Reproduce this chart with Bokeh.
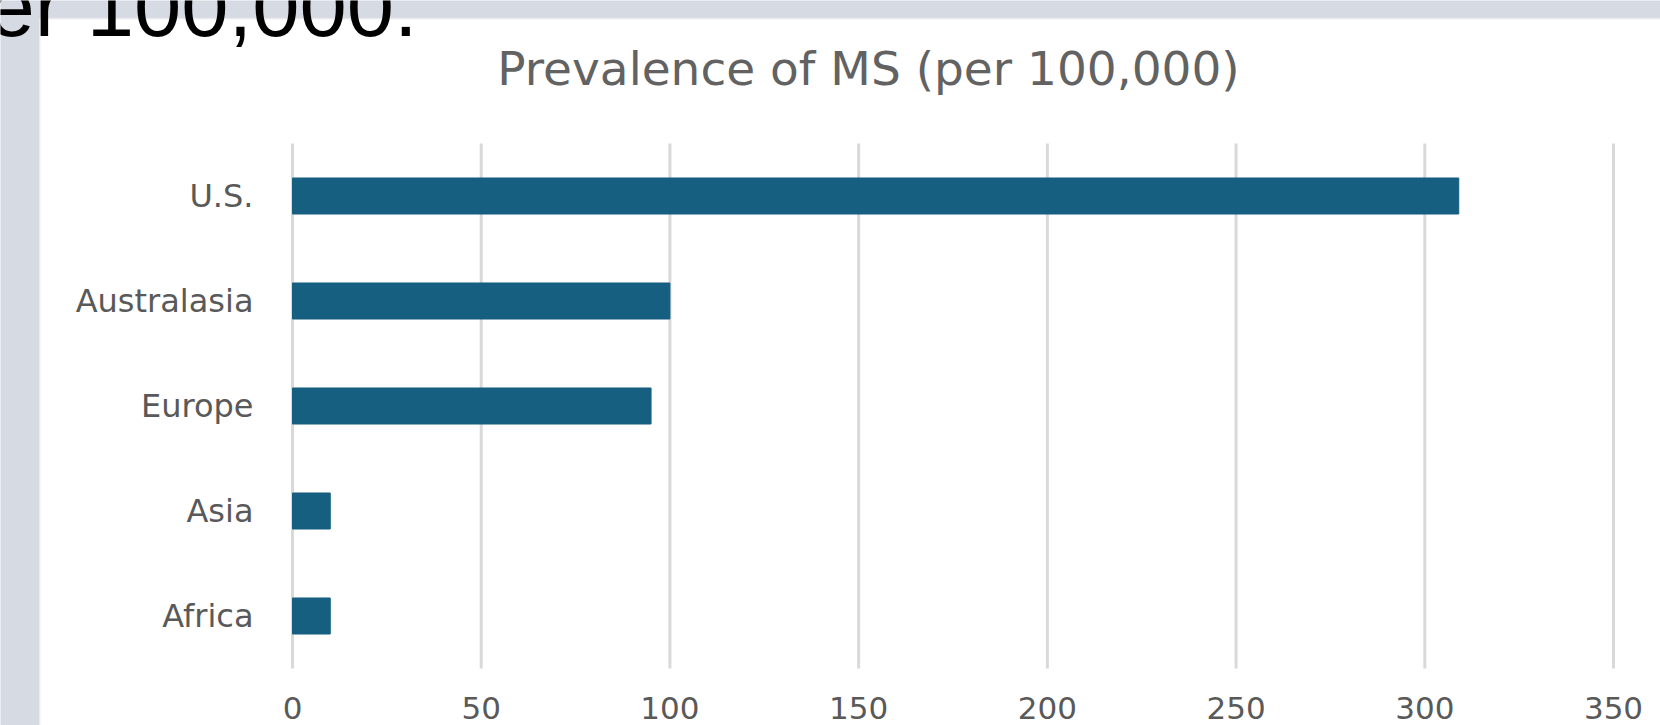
from bokeh.plotting import figure
from bokeh.models import Range1d, Label, BoxAnnotation, ColumnDataSource, LinearAxis, FixedTicker
from bokeh.embed import file_html
from bokeh.resources import INLINE

# ---- data ----
regions = ["Africa", "Asia", "Europe", "Australasia", "U.S."]
prevalence = [10, 10, 95, 100, 309]
x_ticks = [0, 50, 100, 150, 200, 250, 300, 350]
title_text = "Prevalence of MS (per 100,000)"
heading_text = "er 100,000."

# ---- layout constants (pixels) ----
W, H = 1660, 725
FRAME_L, FRAME_R, FRAME_T, FRAME_B = 292, 1613, 143, 668
X_MAX = 350
N = len(regions)
row_pos = list(range(1, N + 1))          # category rows 1..N (Africa at bottom)

def px_to_x(px):
    return (px - FRAME_L) / (FRAME_R - FRAME_L) * X_MAX

def px_to_y(py):
    return 0.5 + (FRAME_B - py) / (FRAME_B - FRAME_T) * N

source = ColumnDataSource(data=dict(row=row_pos, region=regions, value=prevalence))

p = figure(width=W, height=H, output_backend="svg", toolbar_location=None,
           x_range=Range1d(px_to_x(0), px_to_x(W)),
           y_range=Range1d(px_to_y(H), px_to_y(0)),
           x_axis_location=None, y_axis_location=None,
           min_border=0, min_border_left=0, min_border_right=0,
           min_border_top=0, min_border_bottom=0)

p.border_fill_color = "#d5dae3"
p.background_fill_color = "#d5dae3"
p.outline_line_color = None
p.xgrid.visible = False
p.ygrid.visible = False

# white slide panel
panel = BoxAnnotation(left=px_to_x(39), right=px_to_x(W + 20),
                      top=px_to_y(18), bottom=px_to_y(H + 20),
                      fill_color="white", fill_alpha=1.0,
                      line_color="#e6e6e6", line_width=3, level="image")
p.add_layout(panel)

# vertical gridlines at the x ticks, spanning the category rows
p.segment(x0=x_ticks, x1=x_ticks,
          y0=[0.5] * len(x_ticks), y1=[N + 0.5] * len(x_ticks),
          line_color="#d9d9d9", line_width=3)

p.hbar(y="row", left=0, right="value", height=0.343, source=source,
       fill_color="#175f80", line_color="#175f80", line_width=1)

# x axis (fixed at bottom of the rows)
xaxis = LinearAxis(ticker=FixedTicker(ticks=x_ticks), fixed_location=0.5)
xaxis.axis_line_color = None
xaxis.major_tick_line_color = None
xaxis.minor_tick_line_color = None
xaxis.major_label_text_font = "DejaVu Sans"
xaxis.major_label_text_font_size = "31px"
xaxis.major_label_text_color = "#595959"
xaxis.major_label_standoff = 22
p.add_layout(xaxis, "below")

# y axis (categories) fixed at x = 0
yaxis = LinearAxis(ticker=FixedTicker(ticks=row_pos), fixed_location=0,
                   major_label_overrides={r: name for r, name in zip(row_pos, regions)})
yaxis.axis_line_color = None
yaxis.major_tick_line_color = None
yaxis.minor_tick_line_color = None
yaxis.major_label_text_font = "DejaVu Sans"
yaxis.major_label_text_font_size = "32px"
yaxis.major_label_text_color = "#595959"
yaxis.major_label_standoff = 33
p.add_layout(yaxis, "left")

title = Label(x=px_to_x(868), y=px_to_y(68), text=title_text,
              text_font="DejaVu Sans", text_font_size="47px",
              text_color="#626262", text_align="center", text_baseline="alphabetic")
p.add_layout(title)

heading = Label(x=px_to_x(-13), y=px_to_y(6), text=heading_text,
                text_font="Liberation Sans", text_font_size="85px",
                text_color="black", text_align="left", text_baseline="alphabetic")
p.add_layout(heading)

open("out.html", "w").write(file_html(p, INLINE))
